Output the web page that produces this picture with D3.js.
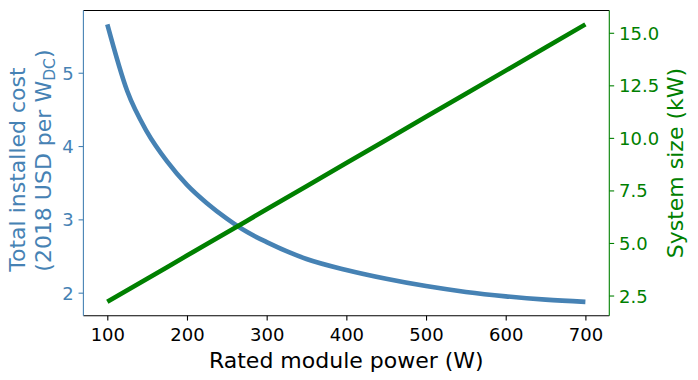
<!DOCTYPE html>
<html>
<head>
<meta charset="utf-8">
<script src="https://cdn.jsdelivr.net/npm/d3@7"></script>
<style>
  html, body { margin: 0; padding: 0; background: #fff; }
  svg { display: block; font-family: "DejaVu Sans", sans-serif; }
</style>
</head>
<body>
<svg id="chart" width="698" height="380"></svg>
<script>
// ---- Data ----
const power = [100, 125, 150, 175, 200, 225, 250, 275, 300, 350, 400, 450, 500, 550, 600, 650, 700];
const cost = [5.66, 4.75, 4.19, 3.79, 3.47, 3.22, 3.01, 2.83, 2.69, 2.46, 2.31, 2.19, 2.09, 2.01, 1.95, 1.905, 1.875];
const systemSize = [2.2, 2.75, 3.3, 3.85, 4.4, 4.95, 5.5, 6.05, 6.6, 7.7, 8.8, 9.9, 11.0, 12.1, 13.2, 14.3, 15.4];
const xTicks = [100, 200, 300, 400, 500, 600, 700];
const leftTicks = [2, 3, 4, 5];
const rightTicks = [2.5, 5.0, 7.5, 10.0, 12.5, 15.0];

// ---- Layout ----
const W = 698, H = 380;
const plot = { left: 83.4, right: 609.3, top: 10.5, bottom: 315.7 };
const blue = "steelblue", green = "#008000";
const tickLen = 4.86, tickPad = 4.86;

const svg = d3.select("#chart");

const x = d3.scaleLinear().domain([70, 730]).range([plot.left, plot.right]);
const yL = d3.scaleLinear().domain([1.686, 5.849]).range([plot.bottom, plot.top]);
const yR = d3.scaleLinear().domain([1.54, 16.06]).range([plot.bottom, plot.top]);

// Lines
const blueLine = d3.line().x((d, i) => x(power[i])).y(d => yL(d)).curve(d3.curveMonotoneX);
const greenLine = d3.line().x((d, i) => x(power[i])).y(d => yR(d));

svg.append("path").datum(cost)
  .attr("d", blueLine).attr("fill", "none")
  .attr("stroke", blue).attr("stroke-width", 4.6);

svg.append("path").datum(systemSize)
  .attr("d", greenLine).attr("fill", "none")
  .attr("stroke", green).attr("stroke-width", 4.6);

// Axes
function styleAxis(g, color) {
  g.select(".domain").remove();
  g.selectAll(".tick line").attr("stroke", color).attr("stroke-width", 1.1);
  g.selectAll(".tick text").attr("fill", color).attr("font-size", 18)
    .attr("font-family", "DejaVu Sans");
}

const gx = svg.append("g").attr("transform", `translate(0,${plot.bottom})`)
  .call(d3.axisBottom(x).tickValues(xTicks).tickSize(tickLen).tickPadding(tickPad).tickFormat(d3.format("d")));
styleAxis(gx, "#000");
gx.selectAll(".tick text").attr("dy", "0.87em");

const gl = svg.append("g").attr("transform", `translate(${plot.left},0)`)
  .call(d3.axisLeft(yL).tickValues(leftTicks).tickSize(tickLen).tickPadding(tickPad).tickFormat(d3.format("d")));
styleAxis(gl, blue);
gl.selectAll(".tick text").attr("dy", "0.36em");

const gr = svg.append("g").attr("transform", `translate(${plot.right},0)`)
  .call(d3.axisRight(yR).tickValues(rightTicks).tickSize(tickLen).tickPadding(tickPad).tickFormat(d3.format(".1f")));
styleAxis(gr, green);
gr.selectAll(".tick text").attr("dy", "0.36em");

// Spines
const sw = 1.1;
svg.append("line").attr("x1", plot.left).attr("x2", plot.right).attr("y1", plot.top).attr("y2", plot.top)
  .attr("stroke", "#000").attr("stroke-width", sw);
svg.append("line").attr("x1", plot.left).attr("x2", plot.right).attr("y1", plot.bottom).attr("y2", plot.bottom)
  .attr("stroke", "#000").attr("stroke-width", sw);
svg.append("line").attr("x1", plot.left).attr("x2", plot.left).attr("y1", plot.top).attr("y2", plot.bottom)
  .attr("stroke", blue).attr("stroke-width", sw);
svg.append("line").attr("x1", plot.right).attr("x2", plot.right).attr("y1", plot.top).attr("y2", plot.bottom)
  .attr("stroke", green).attr("stroke-width", sw);

// Axis labels
svg.append("text")
  .attr("x", (plot.left + plot.right) / 2).attr("y", 367.8)
  .attr("text-anchor", "middle").attr("font-size", 22).attr("fill", "#000")
  .text("Rated module power (W)");

const yStart = 271.7;
svg.append("text")
  .attr("transform", `translate(25,${yStart}) rotate(-90)`)
  .attr("text-anchor", "start").attr("font-size", 22).attr("fill", blue)
  .text("Total installed cost");

const l2 = svg.append("text")
  .attr("transform", `translate(50.5,${yStart}) rotate(-90)`)
  .attr("text-anchor", "start").attr("font-size", 22).attr("fill", blue);
l2.append("tspan").text("(2018 USD per W");
l2.append("tspan").attr("font-size", 15.5).attr("dy", 4.5).text("DC");
l2.append("tspan").attr("dy", -4.5).text(")");

svg.append("text")
  .attr("transform", `translate(683,${(plot.top + plot.bottom) / 2}) rotate(-90)`)
  .attr("text-anchor", "middle").attr("font-size", 22).attr("fill", green)
  .text("System size (kW)");
</script>
</body>
</html>
